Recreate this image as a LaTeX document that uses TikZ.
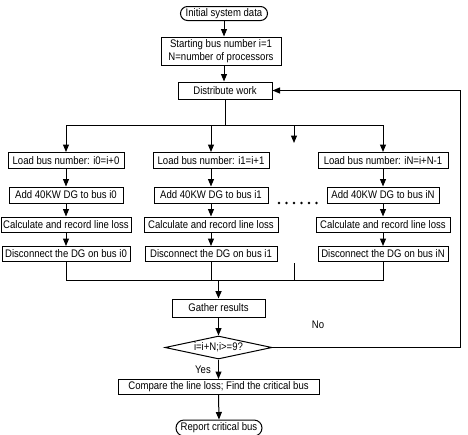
\documentclass[tikz,border=0pt]{standalone}
\usepackage{fontspec}
\setmainfont[FakeStretch=0.87]{Liberation Sans}
\usetikzlibrary{arrows.meta,shapes.geometric}
\begin{document}
\begin{tikzpicture}[x=1pt,y=-1pt,
  font=\fontsize{11}{12.5}\selectfont,
  line width=1pt,
  box/.style={draw,rectangle,inner sep=1pt,minimum height=16pt},
  term/.style={draw,rectangle,rounded corners=7pt,minimum height=14pt,inner sep=1pt},
  arr/.style={-{Triangle[length=7.5pt,width=6pt]}},
  dot/.style={circle,fill,inner sep=0pt,minimum size=2.6pt}]
\useasboundingbox (0,0) rectangle (468,434);
% main column top
\node[term,minimum width=87pt] (init) at (224,13.5) {Initial system data};
\node[box,minimum width=120pt,minimum height=28pt,align=center] (start) at (221,51) {Starting bus number i=1\\N=number of processors};
\node[box,minimum width=94pt,minimum height=17pt] (dist) at (225,90.5) {Distribute work};
% columns
\node[box,minimum width=116pt] (l0) at (66,160.5) {Load bus number: i0=i+0};
\node[box,minimum width=114pt] (a0) at (66,195) {Add 40KW DG to bus i0};
\node[box,minimum width=130pt,minimum height=15pt] (c0) at (66,224.5) {Calculate and record line loss};
\node[box,minimum width=128pt,minimum height=15pt] (d0) at (66,254) {Disconnect the DG on bus i0};
\node[box,minimum width=116pt] (l1) at (211,160.5) {Load bus number: i1=i+1};
\node[box,minimum width=114pt] (a1) at (211,195) {Add 40KW DG to bus i1};
\node[box,minimum width=134pt,minimum height=15pt] (c1) at (211,224.5) {Calculate and record line loss};
\node[box,minimum width=132pt,minimum height=15pt] (d1) at (211,254) {Disconnect the DG on bus i1};
\node[box,minimum width=130pt] (lN) at (383,160.5) {Load bus number: iN=i+N-1};
\node[box,minimum width=112pt] (aN) at (383,195) {Add 40KW DG to bus iN};
\node[box,minimum width=134pt,minimum height=15pt] (cN) at (383,224.5) {Calculate and record line loss};
\node[box,minimum width=130pt,minimum height=15pt] (dN) at (383,254) {Disconnect the DG on bus iN};
% dots
\foreach \i/\x in {1/279,2/286.5,3/294,4/301.5,5/309,6/316.5}
  \node[dot] (dt\i) at (\x,203) {};
% bottom
\node[box,minimum width=93pt,minimum height=18pt] (gath) at (218.5,308) {Gather results};
\node[draw,diamond,aspect=4.6,inner sep=0pt,minimum width=107pt,minimum height=23pt] (dec) at (218.5,347.5) {i=i+N;i>=9?};
\node[box,minimum width=201pt,minimum height=15pt] (comp) at (218.5,387) {Compare the line loss; Find the critical bus};
\node[term,minimum width=86pt,minimum height=16pt,rounded corners=8pt] (rep) at (219,428) {Report critical bus};
\node (yes) at (203,370) {Yes};
\node (no) at (318,325) {No};
% coordinates
\coordinate (split) at (225,125);
\coordinate (sL) at (66,125);
\coordinate (sR) at (383,125);
\coordinate (mid) at (294,125);
\coordinate (midend) at (294,143);
\coordinate (jL) at (66,280);
\coordinate (jR) at (383,280);
\coordinate (jc) at (218.5,280);
\coordinate (stub) at (294,263);
\coordinate (stubend) at (294,280);
\coordinate (loopB) at (460,347.5);
\coordinate (loopT) at (460,90.5);
% connectors
\draw[arr] (init.south -| 224,0) -- (224,0 |- start.north);
\draw[arr] (start.south -| 224,0) -- (224,0 |- dist.north);
\draw (dist.south) -- (split);
\draw (sL) -- (sR);
\draw[arr] (sL) -- (l0.north);
\draw[arr] (split -| l1) -- (l1.north);
\draw[arr] (sR) -- (lN.north);
\draw[arr] (mid) -- (midend);
\foreach \c in {0,1,N}{
  \draw[arr] (l\c.south) -- (a\c.north);
  \draw[arr] (a\c.south) -- (c\c.north);
  \draw[arr] (c\c.south) -- (d\c.north);
}
\draw (d0.south) -- (jL) -- (jR) -- (dN.south);
\draw (d1.south) -- (d1.south |- jL);
\draw (stub) -- (stubend);
\draw[arr,line width=1.6pt] (jc) -- (gath.north);
\draw[arr] (gath.south) -- (dec.north);
\draw[arr] (dec.south) -- (comp.north);
\draw[arr] (comp.south) -- (rep.north);
\draw[arr] (dec.east) -- (loopB) -- (loopT) -- (dist.east);
\end{tikzpicture}
\end{document}
